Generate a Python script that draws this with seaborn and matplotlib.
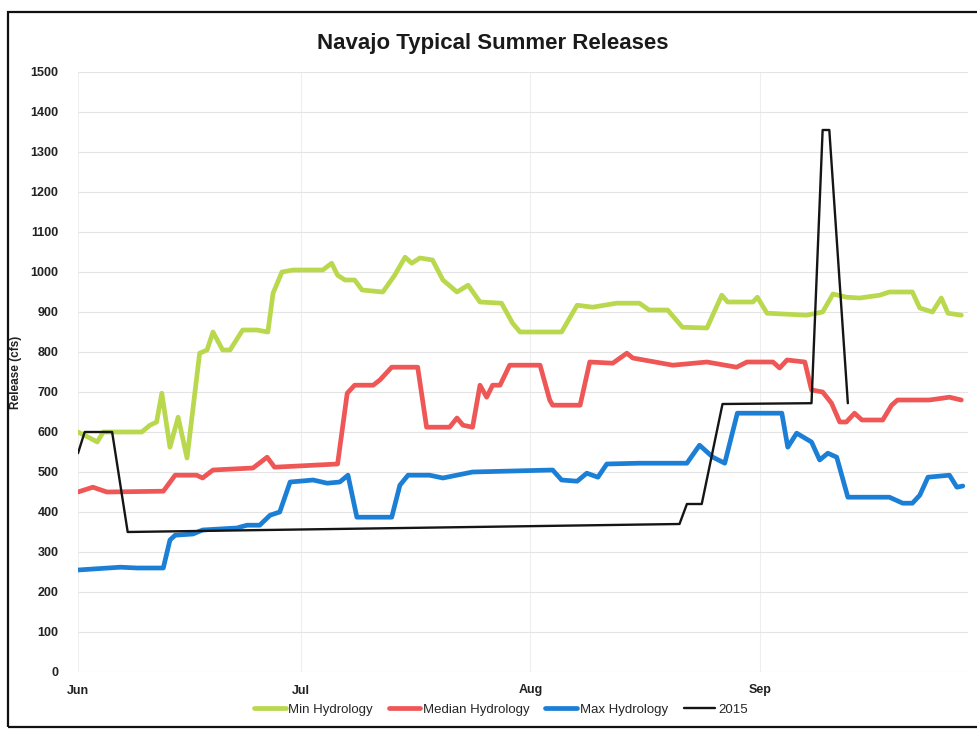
import numpy as np
import pandas as pd
import matplotlib
matplotlib.use("Agg")
import matplotlib.pyplot as plt
import matplotlib.dates as mdates
from matplotlib.patches import Rectangle
import seaborn as sns

# ---- data (days since Jun 1, release in cfs) ----
min_days = [0, 1.6, 2.6, 3.4, 8.6, 9.7, 10.6, 11.3, 12.4, 13.5, 14.7, 16.4, 17.4, 18.2, 19.5, 20.5,
            22.2, 24.1, 25.6, 26.3, 27.5, 29.0, 33.0, 34.2, 35.0, 36.0, 37.3, 38.3, 41.1, 42.7, 44.1,
            45.0, 46.1, 47.8, 49.2, 51.1, 52.6, 54.2, 57.1, 58.6, 59.6, 65.2, 67.3, 69.4, 72.6, 75.7,
            77.0, 79.5, 81.5, 84.8, 86.8, 87.6, 91.0, 91.6, 92.9, 98.2, 100.4, 101.8, 103.6, 105.4,
            108.1, 109.4, 112.5, 113.5, 115.2, 116.4, 117.3, 119.1]
min_vals = [600, 585, 575, 600, 600, 617, 625, 697, 562, 637, 535, 797, 805, 850, 805, 805,
            855, 855, 850, 947, 1000, 1005, 1005, 1022, 992, 980, 980, 955, 950, 992, 1037,
            1022, 1035, 1030, 980, 950, 967, 925, 922, 872, 850, 850, 917, 912, 922, 922,
            905, 905, 862, 860, 942, 925, 925, 937, 897, 892, 900, 945, 937, 935,
            942, 950, 950, 910, 900, 935, 897, 892]

median_days = [0, 2.0, 3.9, 11.5, 13.1, 16.0, 16.8, 18.2, 23.6, 25.5, 26.5, 35.0, 36.3, 37.3, 39.8,
               40.7, 42.3, 45.8, 47.0, 50.1, 51.1, 51.9, 53.2, 54.2, 55.1, 55.9, 56.9, 58.2, 62.3,
               63.6, 64.0, 67.7, 69.0, 72.1, 74.0, 74.8, 80.2, 84.8, 88.8, 90.2, 93.7, 94.6, 95.6,
               98.0, 98.9, 100.4, 101.6, 102.7, 103.6, 104.7, 105.7, 108.5, 109.7, 110.5, 114.8,
               117.5, 119.1]
median_vals = [450, 462, 450, 452, 492, 492, 485, 505, 510, 537, 512, 520, 697, 717, 717,
               730, 762, 762, 612, 612, 635, 617, 612, 717, 687, 717, 717, 767, 767,
               680, 667, 667, 775, 772, 797, 785, 767, 775, 762, 775, 775, 760, 780,
               775, 705, 700, 672, 625, 625, 647, 630, 630, 667, 680, 680,
               687, 680]

max_days = [0, 5.7, 8.0, 11.5, 12.4, 13.1, 15.5, 16.8, 21.4, 22.8, 24.5, 25.9, 27.2, 28.6, 29.9,
            31.7, 33.6, 35.3, 36.4, 37.6, 42.3, 43.4, 44.5, 47.4, 49.2, 53.2, 64.0, 65.2, 67.3,
            68.6, 70.1, 71.3, 75.7, 82.1, 83.8, 85.6, 87.2, 88.9, 94.9, 95.7, 96.9, 98.9, 100.0,
            101.1, 102.3, 103.8, 109.4, 111.2, 112.5, 113.5, 114.6, 117.5, 118.5, 119.3]
max_vals = [255, 262, 260, 260, 330, 342, 345, 355, 360, 367, 367, 392, 400, 475, 477,
            480, 472, 475, 492, 387, 387, 467, 492, 492, 485, 500, 505, 480, 477,
            497, 487, 520, 522, 522, 567, 537, 522, 647, 647, 562, 597, 575, 530,
            547, 537, 437, 437, 422, 422, 442, 487, 492, 462, 465]

y2015_days = [0, 0.9, 4.6, 6.7, 81.1, 82.1, 84.1, 86.9, 98.9, 100.4, 101.3, 103.8]
y2015_vals = [547, 600, 600, 350, 370, 420, 420, 670, 672, 1355, 1355, 672]

series_names = ["Min Hydrology", "Median Hydrology", "Max Hydrology", "2015"]
y_ticks = list(range(0, 1501, 100))

start = pd.Timestamp("2015-06-01")
def to_dates(days):
    return start + pd.to_timedelta(np.array(days, dtype=float), unit="D")

sns.set_theme(style="white")
plt.rcParams["font.family"] = ["Liberation Sans", "DejaVu Sans"]

fig = plt.figure(figsize=(9.77, 7.36), dpi=100)
ax = fig.add_axes([78 / 977, 1 - 672 / 736, (968 - 78) / 977, 600 / 736])

colors = ["#b9d84e", "#ef5656", "#1c7fd6", "#151515"]
widths = [3.4, 3.4, 3.4, 1.7]
for name, days, vals, c, w in zip(series_names,
                                  [min_days, median_days, max_days, y2015_days],
                                  [min_vals, median_vals, max_vals, y2015_vals],
                                  colors, widths):
    df = pd.DataFrame({"date": to_dates(days), "value": vals})
    sns.lineplot(data=df, x="date", y="value", ax=ax, color=c, linewidth=w,
                 label=name, estimator=None, sort=False)

ax.set_xlim(start, start + pd.Timedelta(days=120))
ax.set_ylim(0, 1500)
ax.set_yticks(y_ticks)
ax.set_yticklabels([str(v) for v in y_ticks], fontsize=9, fontweight="bold", color="#222222")
ax.xaxis.set_major_locator(mdates.MonthLocator())
ax.xaxis.set_major_formatter(mdates.DateFormatter("%b"))
for lab in ax.get_xticklabels():
    lab.set_fontsize(9)
    lab.set_fontweight("bold")
    lab.set_color("#222222")
ax.tick_params(axis="y", length=0, pad=14)
ax.tick_params(axis="x", length=0, pad=9)
ax.set_xlabel("")
ax.set_ylabel("Release (cfs)", fontsize=8.5, fontweight="bold", labelpad=6, color="#222222")
ax.grid(axis="y", color="#e4e4e4", linewidth=0.8)
ax.grid(axis="x", color="#eeeeee", linewidth=0.8)
for s in ax.spines.values():
    s.set_visible(False)

fig.text(493 / 977, 1 - 43 / 736, "Navajo Typical Summer Releases", ha="center", va="center",
         fontsize=16, fontweight="bold", color="#1a1a1a")

ax.legend(loc="center", bbox_to_anchor=(0.475, -0.063), ncol=4, frameon=False,
          fontsize=9.5, handlelength=2.4, handletextpad=0.2, columnspacing=1.2)

fig.patches.append(Rectangle((8 / 977, 9 / 736), 1.2, 1 - 21 / 736, transform=fig.transFigure,
                             fill=False, edgecolor="#111111", linewidth=1.6))

fig.savefig("out.png", dpi=100, facecolor="white")
